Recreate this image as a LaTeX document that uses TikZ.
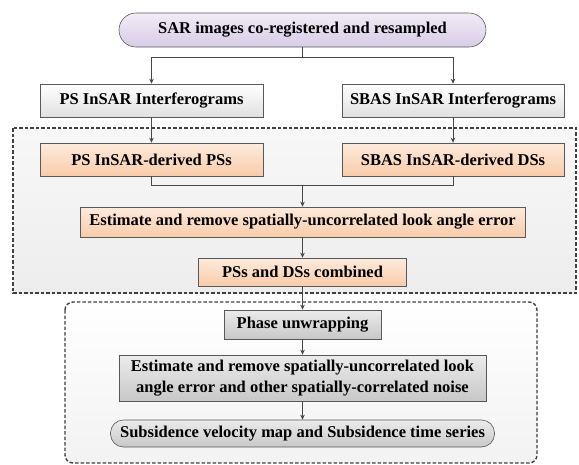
\documentclass[tikz,border=0pt]{standalone}
\usepackage{fontspec}
\setmainfont{Liberation Serif}
\usetikzlibrary{arrows.meta}

\definecolor{lilacTop}{HTML}{F1ECF6}
\definecolor{lilacBot}{HTML}{D8CCE6}
\definecolor{peachTop}{HTML}{FDEBDD}
\definecolor{peachBot}{HTML}{F9CBA9}
\definecolor{greyTop}{HTML}{EBEBEB}
\definecolor{greyBot}{HTML}{C8C8C8}

\tikzset{
    flowline/.style = {draw=black!72, line width=0.7pt},
    flowarrow/.style = {flowline, -{Stealth[length=5pt, width=4.5pt]}},
    box/.style = {draw=black!65, line width=0.6pt, inner sep=0pt, align=center,
                  font=\bfseries\fontsize{16.5}{21}\selectfont},
    startbox/.style = {box, rounded corners=17pt, top color=lilacTop, bottom color=lilacBot},
    ifgbox/.style = {box, top color=white, bottom color=black!12},
    pointbox/.style = {box, top color=peachTop, bottom color=peachBot},
    procbox/.style = {box, top color=greyTop, bottom color=greyBot},
    endbox/.style = {procbox, rounded corners=13pt},
    region/.style = {draw=black!75, line width=1.4pt, dash pattern=on 3.5pt off 2pt}
}

\begin{document}
\begin{tikzpicture}[x=1pt, y=-1pt]
    \pgfmathsetmacro{\midX}{302.5}  % centre line, units of points
    \pgfmathsetmacro{\leftX}{151.5}  % PS column
    \pgfmathsetmacro{\rightX}{453}  % SBAS column

    % page and the two dashed regions
    \fill[white] (0,0) rectangle (579,464);
    \useasboundingbox (0,0) rectangle (579,464);
    \draw[region, top color=black!3, bottom color=black!7] (13,128) rectangle (576,293);
    \draw[region, rounded corners=8pt, top color=white, bottom color=black!5] (65,302) rectangle (537,463);

    % nodes
    \node[startbox, minimum width=367pt, minimum height=34pt] (sar) at (\midX,30) {SAR images co-registered and resampled};
    \node[ifgbox, minimum width=223pt, minimum height=33pt] (psifg) at (\leftX,100.5) {PS InSAR Interferograms};
    \node[ifgbox, minimum width=222pt, minimum height=33pt] (sbasifg) at (\rightX,100.5) {SBAS InSAR Interferograms};
    \node[pointbox, minimum width=223pt, minimum height=33pt] (psder) at (\leftX,159.5) {PS InSAR-derived PSs};
    \node[pointbox, minimum width=222pt, minimum height=33pt] (sbasder) at (\rightX,159.5) {SBAS InSAR-derived DSs};
    \node[pointbox, minimum width=445pt, minimum height=30pt] (lookerr) at (\midX,222) {Estimate and remove spatially-uncorrelated look angle error};
    \node[pointbox, minimum width=208pt, minimum height=28pt] (combined) at (\midX,272) {PSs and DSs combined};
    \node[procbox, minimum width=157pt, minimum height=29pt] (unwrap) at (\midX,324.5) {Phase unwrapping};
    \node[procbox, minimum width=367pt, minimum height=46pt] (noise) at (\midX,378)
        {Estimate and remove spatially-uncorrelated look\\angle error and other spatially-correlated noise};
    \node[endbox, minimum width=384pt, minimum height=27pt] (result) at (\midX,433.5) {Subsidence velocity map and Subsidence time series};

    % connectors
    \coordinate (split) at (\midX,57);
    \coordinate (merge) at (\midX,185.5);
    \draw[flowarrow] (sar.south) -- (split) -| (psifg.north);
    \draw[flowarrow] (split) -| (sbasifg.north);
    \draw[flowarrow] (psifg) -- (psder);
    \draw[flowarrow] (sbasifg) -- (sbasder);
    \draw[flowline] (psder.south) |- (merge);
    \draw[flowline] (sbasder.south) |- (merge);
    \draw[flowarrow] (merge) -- (lookerr.north);
    \draw[flowarrow] (lookerr) -- (combined);
    \draw[flowarrow] (combined) -- (unwrap);
    \draw[flowarrow] (unwrap) -- (noise);
    \draw[flowarrow] (noise) -- (result);
\end{tikzpicture}
\end{document}
